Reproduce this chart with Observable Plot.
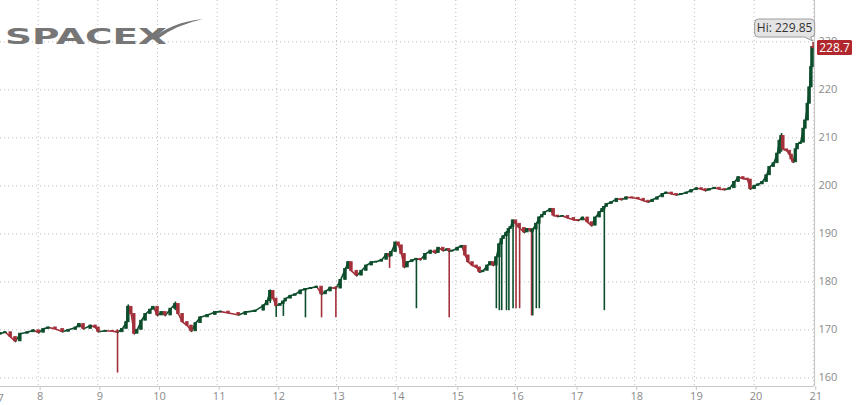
<!DOCTYPE html>
<html><head><meta charset="utf-8">
<script src="https://cdn.jsdelivr.net/npm/d3@7"></script>
<script src="https://cdn.jsdelivr.net/npm/@observablehq/plot@0.6"></script>
<style>
html,body{margin:0;padding:0;background:#fff;}
#chart{width:859px;height:405px;overflow:hidden;}
</style></head><body><div id="chart"></div>
<script>
// Candle times (day of month) and closing prices
const days = [
  7.37,7.45,7.54,7.62,7.70,7.82,7.92,8.01,8.09,8.17,
  8.29,8.41,8.51,8.63,8.69,8.76,8.88,8.96,9.01,9.13,
  9.25,9.33,9.41,9.48,9.51,9.56,9.61,9.66,9.73,9.80,
  9.88,9.93,10.00,10.07,10.13,10.22,10.30,10.35,10.42,10.50,
  10.57,10.64,10.72,10.84,10.97,11.06,11.19,11.36,11.48,11.64,
  11.78,11.84,11.89,11.94,11.99,12.06,12.11,12.15,12.23,12.31,
  12.40,12.48,12.57,12.67,12.75,12.82,12.90,12.99,13.07,13.15,
  13.20,13.25,13.34,13.42,13.50,13.59,13.67,13.76,13.84,13.89,
  13.92,13.99,14.04,14.09,14.14,14.19,14.27,14.34,14.41,14.49,
  14.58,14.66,14.71,14.79,14.86,14.89,14.95,15.03,15.10,15.16,
  15.21,15.28,15.35,15.40,15.46,15.53,15.58,15.63,15.68,15.73,
  15.77,15.80,15.85,15.89,15.92,15.96,16.01,16.07,16.15,16.20,
  16.25,16.27,16.29,16.35,16.40,16.45,16.49,16.59,16.64,16.71,
  16.79,16.88,16.98,17.06,17.13,17.21,17.28,17.34,17.41,17.46,
  17.49,17.53,17.61,17.70,17.78,17.86,17.96,18.06,18.15,18.23,
  18.30,18.38,18.47,18.53,18.62,18.70,18.78,18.87,18.95,19.04,
  19.12,19.19,19.25,19.34,19.42,19.51,19.59,19.67,19.74,19.82,
  19.89,19.94,20.01,20.07,20.14,20.21,20.26,20.33,20.39,20.43,
  20.46,20.49,20.55,20.60,20.63,20.66,20.70,20.73,20.78,20.83,
  20.86,20.90,20.93,20.96,20.98,20.99
];
const closes = [
  169.3,169.5,168.5,167.6,169.2,169.5,169.9,169.4,170.2,170.5,
  170.2,169.6,170.0,170.5,171.2,170.2,170.9,170.5,169.6,169.8,
  169.7,169.5,170.2,171.6,174.8,173.3,169.2,170.0,171.9,173.3,
  174.2,174.8,173.0,173.7,173.0,174.4,175.4,173.3,171.6,170.9,
  169.7,171.4,172.6,173.1,173.7,173.8,173.5,173.1,173.7,174.0,
  175.1,176.0,178.1,176.5,175.0,175.4,175.9,176.5,177.1,177.4,
  178.2,178.5,178.7,179.0,177.4,178.0,178.8,178.6,180.4,182.7,
  184.1,182.3,181.3,182.3,183.4,184.1,184.2,184.6,185.8,185.3,
  186.2,188.2,187.6,185.8,183.0,184.1,184.5,184.8,184.6,185.8,
  186.5,186.0,187.1,186.5,186.8,186.4,186.5,187.1,187.5,185.5,
  184.1,183.4,183.0,182.0,182.3,183.4,184.1,183.4,185.1,187.8,
  188.9,189.5,190.2,191.0,191.4,192.8,192.1,191.2,190.3,191.0,
  190.8,190.4,190.9,192.1,193.4,193.9,194.5,195.2,193.8,193.6,
  193.7,193.3,192.9,192.8,193.4,192.4,191.7,193.4,194.5,195.2,
  195.6,196.2,196.6,197.3,197.1,197.6,197.5,197.3,196.9,196.6,
  197.1,197.6,198.3,198.6,198.3,198.1,198.3,198.6,199.1,199.5,
  199.3,199.0,199.3,199.6,199.3,199.2,199.5,200.8,201.8,201.5,
  201.3,199.3,200.0,200.3,200.8,202.2,203.9,204.7,206.7,209.4,
  210.4,207.6,207.3,206.5,205.5,204.9,207.6,208.7,209.0,211.9,
  213.6,217.1,220.5,224.7,228.9,228.7
];
const firstOpen = 169.0;
const startDay = 7.30;

// Wicks: day, low, high, up (true = rising candle)
const wickDay  = [9.33,9.51,10.30,11.89,11.99,12.11,12.48,12.75,12.99,13.89,14.34,14.89,15.68,15.73,15.77,15.85,15.89,15.96,16.01,16.07,16.27,16.29,16.35,16.40,17.49,20.46,20.99];
const wickLow  = [161.0,171.5,174.0,175.5,172.6,172.8,172.5,172.5,172.5,182.8,174.4,172.5,174.4,174.0,174.0,174.0,174.0,174.4,174.4,174.4,172.9,172.9,174.4,174.4,174.0,207.0,228.5];
const wickHigh = [170.0,175.2,175.8,178.3,175.5,176.0,178.4,178.0,179.0,186.0,184.8,186.8,185.0,188.0,189.0,190.5,191.0,192.5,192.0,191.5,191.0,191.0,192.0,193.5,195.6,210.9,229.85];
const wickUp   = [false,true,true,true,true,true,true,false,false,false,true,false,true,true,true,true,true,true,false,false,false,true,true,true,true,true,false];

const xTicks = [8,9,10,11,12,13,14,15,16,17,18,19,20,21];
const yTicks = [160,170,180,190,200,210,220,230];
const hiValue = 229.85;
const hiDay = 20.99;
const lastValue = 228.7;
const xDomain = [7.368, 21.013];
const yDomain = [158.2, 238.6];

const GREEN = "#0c4d2b", RED = "#a3303a";

const candles = days.map((d, i) => ({
  x1: i ? days[i - 1] : startDay,
  x2: d,
  open: i ? closes[i - 1] : firstOpen,
  close: closes[i]
}));
const wicks = wickDay.map((d, i) => ({x: d, lo: wickLow[i], hi: wickHigh[i], up: wickUp[i]}));
const col = d => d.close >= d.open ? GREEN : RED;

const plot = Plot.plot({
  width: 859, height: 405,
  marginLeft: 0, marginRight: 45, marginTop: 0, marginBottom: 19,
  style: {fontFamily: "'Open Sans', sans-serif", fontSize: "11px", background: "#fff", overflow: "visible"},
  x: {domain: xDomain},
  y: {domain: yDomain},
  marks: [
    Plot.gridX(xTicks, {stroke: "#bdbdbd", strokeOpacity: 1, strokeDasharray: "1,3"}),
    Plot.gridY(yTicks, {stroke: "#bdbdbd", strokeOpacity: 1, strokeDasharray: "1,3"}),
    Plot.ruleX(wicks, {x: "x", y1: "lo", y2: "hi", stroke: d => d.up ? GREEN : RED, strokeWidth: 1.6, clip: true}),
    Plot.link(candles, {x1: "x1", x2: "x2", y1: "open", y2: "close",
      stroke: col, strokeWidth: 1.6, strokeLinecap: "round", clip: true}),
    Plot.rect(candles, {x1: "x2", x2: "x2", y1: "open", y2: "close",
      insetLeft: -1.3, insetRight: -1.3,
      fill: col, stroke: col, strokeWidth: 0.8, clip: true}),
    Plot.ruleY([yDomain[0]], {stroke: "#c8c8c8", strokeWidth: 1.2}),
    Plot.ruleX([xDomain[1]], {stroke: "#c8c8c8", strokeWidth: 1.2}),
    Plot.axisX(xTicks, {anchor: "bottom", tickSize: 4, tickPadding: 2, stroke: "#c8c8c8", fill: "#8a8a8a", fontSize: 11, tickFormat: d => String(d), dx: 2}),
    Plot.axisY(yTicks, {anchor: "right", tickSize: 0, tickPadding: 4, fill: "#8a8a8a", fontSize: 11, tickFormat: d => String(d)}),
    Plot.text(["7"], {frameAnchor: "bottom-left", dx: -3, dy: 15, textAnchor: "start", fill: "#8a8a8a", fontSize: 11})
  ]
});
document.getElementById("chart").appendChild(plot);

const svg = d3.select(plot);
const xs = plot.scale("x"), ys = plot.scale("y");

// Logo
const logo = svg.append("g");
logo.append("text").text("SPACEX")
  .attr("x", 5).attr("y", 44).attr("text-anchor", "start")
  .attr("textLength", 162).attr("lengthAdjust", "spacingAndGlyphs")
  .attr("font-family", "'DejaVu Sans', sans-serif").attr("font-weight", "bold")
  .attr("font-size", 22).attr("fill", "#767676");
logo.append("path")
  .attr("d", "M150,40 Q172,22 203,19 Q176,25 159,38 Z")
  .attr("fill", "#767676");

// Hi label
const hx = xs.apply(hiDay), hy = ys.apply(hiValue);
const bx = hx - 58, by = hy - 23, bw = 60, bh = 18;
const hi = svg.append("g");
hi.append("path")
  .attr("d", `M${bx+4},${by} H${bx+bw-4} Q${bx+bw},${by} ${bx+bw},${by+4} V${by+bh-4} Q${bx+bw},${by+bh} ${bx+bw-4},${by+bh} L${hx},${hy-1} L${bx+bw-10},${by+bh} H${bx+4} Q${bx},${by+bh} ${bx},${by+bh-4} V${by+4} Q${bx},${by} ${bx+4},${by} Z`)
  .attr("fill", "#e4e4e4").attr("stroke", "#9c9c9c").attr("stroke-width", 1);
hi.append("text").text("Hi: " + hiValue.toFixed(2))
  .attr("x", bx + bw / 2).attr("y", by + 13).attr("text-anchor", "middle")
  .attr("font-family", "'Open Sans', sans-serif").attr("font-size", 12).attr("fill", "#333");

// Last price label
const ly = ys.apply(lastValue);
const lp = svg.append("g");
lp.append("rect").attr("x", 817).attr("y", ly - 7.5).attr("width", 35).attr("height", 15).attr("rx", 1.5).attr("fill", "#b0282e");
lp.append("text").text(String(lastValue)).attr("x", 834.5).attr("y", ly + 4.5).attr("text-anchor", "middle")
  .attr("font-family", "'Open Sans', sans-serif").attr("font-size", 12).attr("fill", "#fff");
</script>
</body></html>
